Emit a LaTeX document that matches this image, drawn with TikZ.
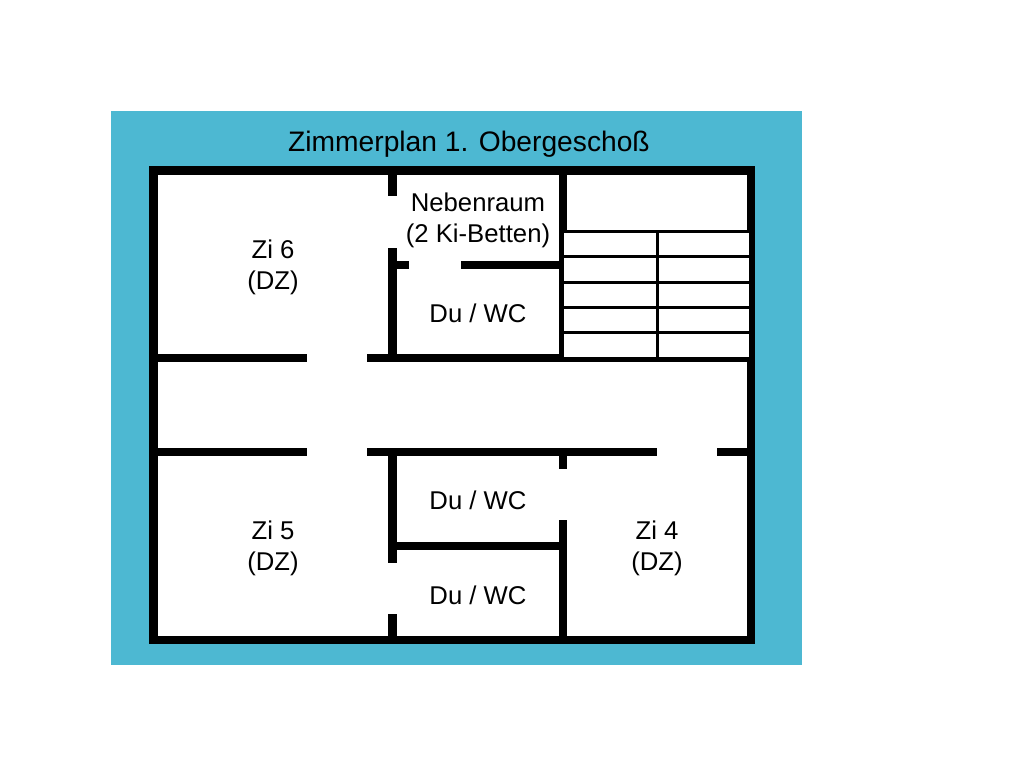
\documentclass[tikz,border=0pt]{standalone}
\usepackage{fontspec}
\setmainfont{Liberation Sans}
\definecolor{plan}{HTML}{4DB8D2}
\begin{document}
\begin{tikzpicture}[x=1pt, y=-1pt,
            wall/.style = {line width=8.5pt},
            stair/.style = {line width=3pt},
            room/.style = {align=center, font=\fontsize{25.7}{31.5}\selectfont, inner sep=0pt},
            heading/.style = {font=\fontsize{28.2}{32}\selectfont, inner sep=0pt}]
                \useasboundingbox (0,0) rectangle (1024,768);
                \fill[white] (0,0) rectangle (1024,768);
                \fill[plan] (111,111) rectangle (802,665);
                \draw[wall, fill=white] (153.5,170.5) rectangle (751,640);

                % inner walls, upper part
                \draw[wall] (392.5,170) -- (392.5,196);
                \draw[wall] (392.5,248) -- (392.5,358);
                \draw[wall] (392,265) -- (409,265);
                \draw[wall] (461,265) -- (563,265);
                \draw[wall] (563,170) -- (563,358);
                \draw[wall] (153,358) -- (307,358);
                \draw[wall] (367,358) -- (563,358);

                % inner walls, lower part
                \draw[wall] (153,452) -- (307,452);
                \draw[wall] (367,452) -- (657,452);
                \draw[wall] (717,452) -- (751,452);
                \draw[wall] (392.5,452) -- (392.5,563);
                \draw[wall] (392.5,614) -- (392.5,640);
                \draw[wall] (563,452) -- (563,469);
                \draw[wall] (563,520) -- (563,640);
                \draw[wall] (392,546) -- (563,546);

                % stairs
                \fill[white] (564,230) rectangle (749,357);
                \draw[line width=5.5pt] (563,359.5) -- (751,359.5);
                \foreach \y in {231,256,282,307,332}
                    \draw[stair] (563,\y) -- (751,\y);
                \draw[stair] (657,231) -- (657,358);

                \node[heading] (title) at (469,144.5) {Zimmerplan 1. Obergeschoß};
                \node[room] (zi6) at (273,267.5) {Zi 6\\(DZ)};
                \node[room] (neben) at (478,220.5) {Nebenraum\\(2 Ki-Betten)};
                \node[room] (bad6) at (478,313.5) {Du / WC};
                \node[room] (zi5) at (273,548.5) {Zi 5\\(DZ)};
                \node[room] (bad5) at (478,500.5) {Du / WC};
                \node[room] (bad4) at (478,595.5) {Du / WC};
                \node[room] (zi4) at (657,548.5) {Zi 4\\(DZ)};
        \end{tikzpicture}
\end{document}
